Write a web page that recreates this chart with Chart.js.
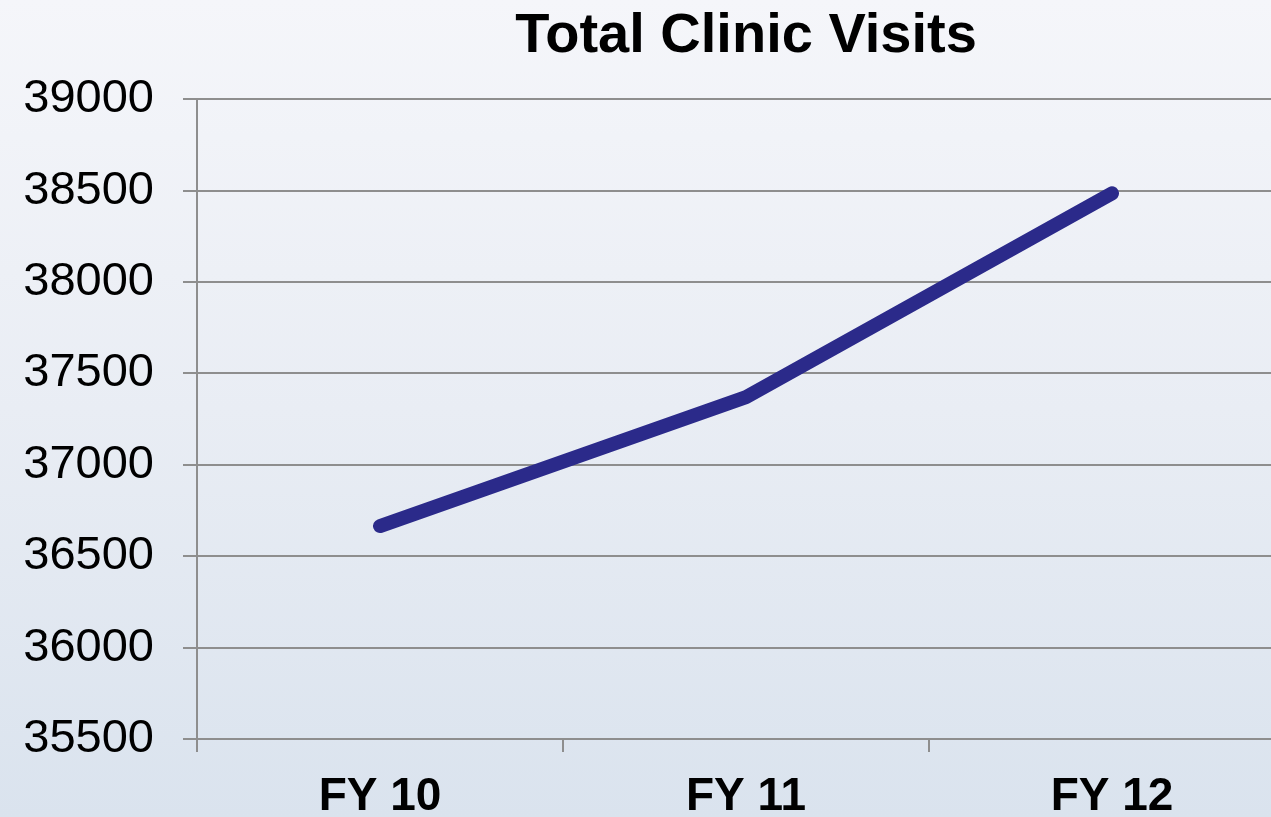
<!DOCTYPE html>
<html>
<head>
<meta charset="utf-8">
<script src="https://cdn.jsdelivr.net/npm/chart.js@4/dist/chart.umd.min.js"></script>
<style>
  html, body { margin: 0; padding: 0; overflow: hidden; }
  body {
    width: 1271px; height: 817px;
    background: linear-gradient(to bottom, #f5f6fa 0%, #e9edf4 50%, #dae3ee 100%);
  }
  #wrap { width: 1295px; height: 817px; }
</style>
</head>
<body>
<div id="wrap"><canvas id="myChart" width="1295" height="817"></canvas></div>
<script>
// 데이터
const categories = ['FY 10', 'FY 11', 'FY 12'];
const visits = [36665, 37370, 38485];
const yMin = 35500;
const yMax = 39000;
const yStep = 500;

const gridColor = '#8e8e8e';

const config = {
  type: 'line',
  data: {
    labels: categories,
    datasets: [{
      label: 'Total Clinic Visits',
      data: visits,
      borderColor: '#2b2a8a',
      backgroundColor: '#2b2a8a',
      borderWidth: 14,
      borderCapStyle: 'round',
      borderJoinStyle: 'round',
      pointRadius: 0,
      tension: 0,
      fill: false
    }]
  },
  options: {
    responsive: false,
    animation: false,
    layout: { padding: 0 },
    plugins: {
      legend: { display: false },
      tooltip: { enabled: false },
      title: {
        display: true,
        text: 'Total Clinic Visits',
        fullSize: false,
        color: '#000',
        font: { family: 'Liberation Sans, Arial, sans-serif', size: 56, weight: 'bold', lineHeight: 1.2 },
        padding: { top: 3, bottom: 29 }
      }
    },
    scales: {
      x: {
        offset: true,
        grid: {
          offset: true,
          drawOnChartArea: false,
          drawTicks: true,
          tickLength: 13,
          color: gridColor,
          lineWidth: 2
        },
        border: { display: true, color: gridColor, width: 2 },
        ticks: {
          color: '#000',
          padding: 18,
          maxRotation: 0,
          font: { family: 'Liberation Sans, Arial, sans-serif', size: 46, weight: 'bold' }
        },
        afterFit: function(scale) { scale.height = 78; }
      },
      y: {
        min: yMin,
        max: yMax,
        grid: {
          color: gridColor,
          lineWidth: 2,
          tickLength: 14
        },
        border: { display: true, color: gridColor, width: 2 },
        ticks: {
          stepSize: yStep,
          color: '#000',
          padding: 29,
          font: { family: 'Liberation Sans, Arial, sans-serif', size: 47 },
          callback: function(v) { return String(v); }
        },
        afterFit: function(scale) { scale.width = 197; }
      }
    }
  }
};

const myChart = new Chart(document.getElementById('myChart'), config);
</script>
</body>
</html>
